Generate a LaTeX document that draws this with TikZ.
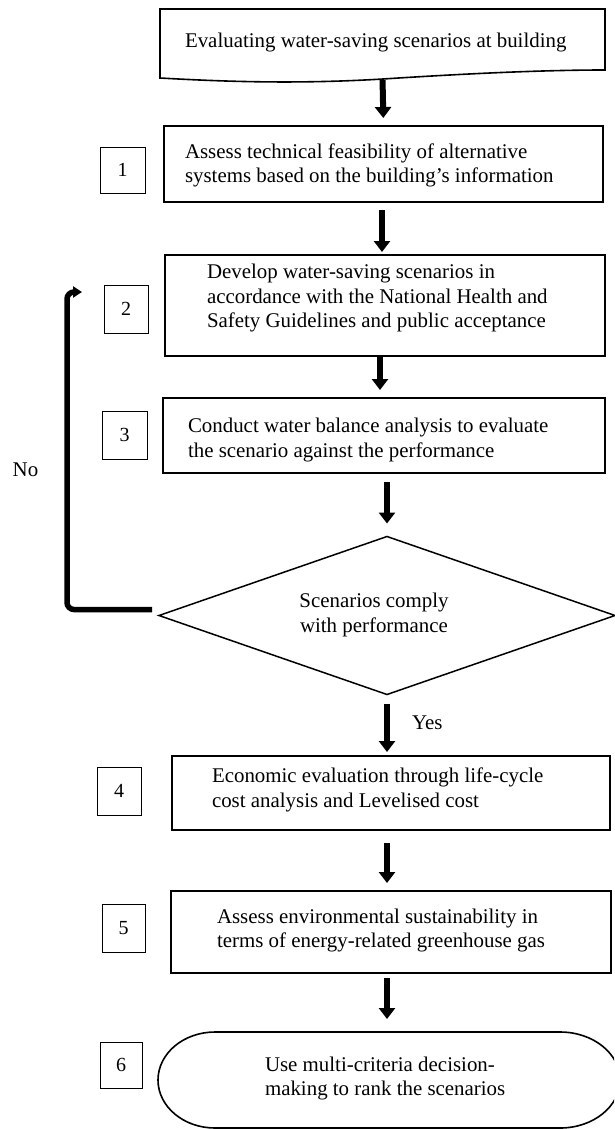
\documentclass[tikz,border=0pt]{standalone}
\usepackage{fontspec}
\setmainfont{Liberation Serif}
\usetikzlibrary{arrows.meta,shapes.geometric}
\begin{document}
\begin{tikzpicture}[x=1pt,y=-1pt,
  every node/.style={outer sep=0pt},
  box/.style={draw,line width=1.6pt,rectangle,inner sep=0pt},
  ghost/.style={rectangle,inner sep=0pt},
  numbox/.style={draw,line width=0.9pt,rectangle,inner sep=0pt,font=\fontsize{20}{24}\selectfont},
  txt/.style={anchor=west,align=left,inner sep=0pt,font=\fontsize{20.9}{24.5}\selectfont},
  lbl/.style={inner sep=0pt,font=\fontsize{20.9}{24.5}\selectfont},
  flow/.style={line width=6pt,-{Triangle[width=16pt,length=11pt]}},
  loop/.style={line width=5.5pt,rounded corners=7pt,-{Triangle[width=11pt,length=9pt]}},
]
\useasboundingbox (0,0) rectangle (614,1129);

% start: document shape
\node[ghost,minimum width=445pt,minimum height=69pt] (b0) at (382.5,43.5) {};
\draw[line width=1.6pt] (160,9) -- (605,9) -- (605,70)
  .. controls (540,70) and (460,74) .. (383,79)
  .. controls (300,84) and (230,82) .. (160,78) -- cycle;
\node[txt] (t0) at (185,43) {Evaluating water-saving scenarios at building};

% box 1
\node[box,minimum width=439pt,minimum height=76pt] (b1) at (383.5,164) {};
\node[txt] (t1) at (185,165.5) {Assess technical feasibility of alternative\\systems based on the building’s information};
\node[numbox,minimum width=45pt,minimum height=46pt] (n1) at (122.5,170) {1};

% box 2
\node[box,minimum width=440pt,minimum height=101pt] (b2) at (385,305.5) {};
\node[txt] (t2) at (207,298.5) {Develop water-saving scenarios in\\accordance with the National Health and\\Safety Guidelines and public acceptance};
\node[numbox,minimum width=44pt,minimum height=48pt] (n2) at (126,309) {2};

% box 3
\node[box,minimum width=442pt,minimum height=75pt] (b3) at (384,435.5) {};
\node[txt] (t3) at (188,440) {Conduct water balance analysis to evaluate\\the scenario against the performance};
\node[numbox,minimum width=45pt,minimum height=48pt] (n3) at (124.5,435) {3};

% decision
\node[draw,diamond,aspect=2.87,line width=1.5pt,inner sep=0pt,minimum width=456pt,minimum height=158pt] (dia) at (387,615.5) {};
\node[lbl,align=center] (td) at (374,615) {Scenarios comply\\with performance};

% box 4
\node[box,minimum width=438pt,minimum height=74pt] (b4) at (391,793) {};
\node[txt] (t4) at (212,790) {Economic evaluation through life-cycle\\cost analysis and Levelised cost};
\node[numbox,minimum width=44pt,minimum height=48pt] (n4) at (119,791) {4};

% box 5
\node[box,minimum width=440pt,minimum height=82pt] (b5) at (391,932) {};
\node[txt] (t5) at (217,930.5) {Assess environmental sustainability in\\terms of energy-related greenhouse gas};
\node[numbox,minimum width=43pt,minimum height=48pt] (n5) at (123.5,928) {5};

% terminal
\node[ghost,minimum width=460pt,minimum height=96pt] (term) at (388,1080) {};
\begin{scope}
\clip (0,0) rectangle (614,1129);
\draw[line width=1.6pt] (215,1032) -- (560,1032)
  arc[start angle=-90,end angle=90,x radius=60,y radius=48]
  -- (215,1128)
  arc[start angle=90,end angle=270,x radius=57,y radius=48] -- cycle;
\end{scope}
\node[txt] (t6) at (265,1078.5) {Use multi-criteria decision-\\making to rank the scenarios};
\node[numbox,minimum width=42pt,minimum height=46pt] (n6) at (121,1065) {6};

% labels
\node[lbl] (no) at (25.5,470) {No};
\node[lbl,anchor=west] (yes) at (412,723) {Yes};

% connectors
\draw[flow,shorten <=2pt,shorten >=8pt] (b0.south) -- (b1.north);
\draw[flow,shorten <=8pt,shorten >=3pt] ([xshift=-1.5pt]b1.south) -- ([xshift=-3pt]b2.north);
\draw[flow,shorten <=0pt,shorten >=8pt] ([xshift=-5pt]b2.south) -- ([xshift=-4pt]b3.north);
\draw[flow,shorten <=9pt,shorten >=13pt] (dia.north |- b3.south) -- (dia.north);
\draw[flow,shorten <=9pt,shorten >=4pt] (dia.south) -- (dia.south |- b4.north);
\draw[flow,shorten <=13pt,shorten >=8pt] (dia.south |- b4.south) -- (dia.south |- b5.north);
\draw[flow,shorten <=5pt,shorten >=13pt] (dia.south |- b5.south) -- (dia.south |- term.north);

\coordinate (turn) at (67,292);
\coordinate (loopend) at (82,292);
\draw[loop] ([shift={(-7,-6)}]dia.west) -| (turn) -- (loopend);
\end{tikzpicture}
\end{document}
